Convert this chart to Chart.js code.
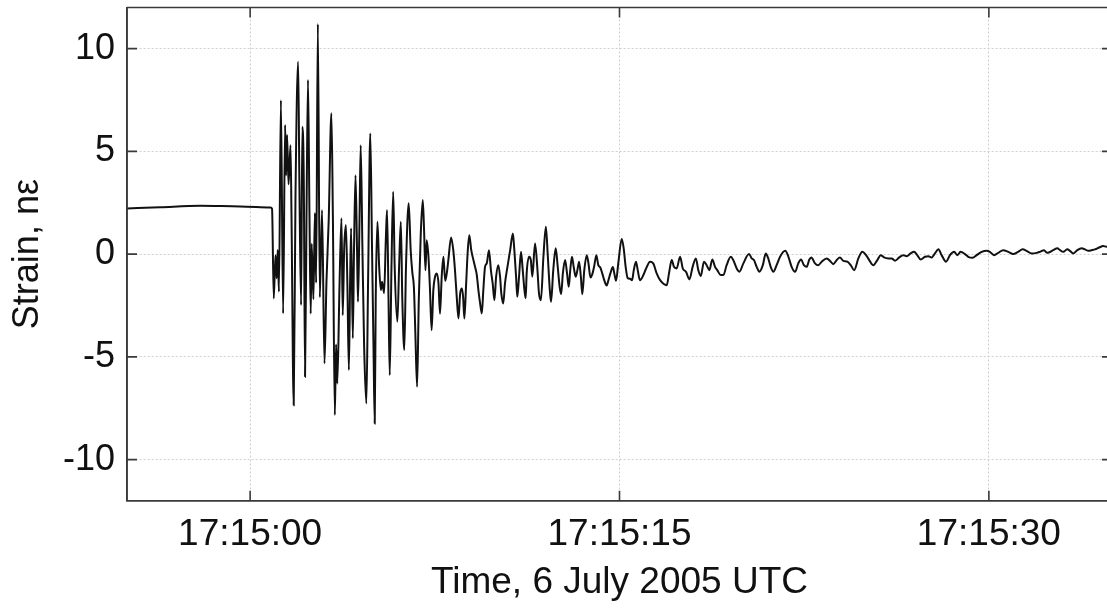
<!DOCTYPE html>
<html>
<head>
<meta charset="utf-8">
<script src="https://cdn.jsdelivr.net/npm/chart.js@4.4.1/dist/chart.umd.min.js"></script>
<style>
  html, body { margin: 0; padding: 0; background: #fff; overflow: hidden; }
  #wrap { position: absolute; left: 0; top: 0; width: 1120px; height: 609px; }
</style>
</head>
<body>
<div id="wrap"><canvas id="strainChart"></canvas></div>
<script>
// Seconds after 17:15:00 UTC
const timeSec = [
  -5.0, -3.65, -2.03, -0.41, 0.83, 0.89, 0.96, 1.03, 1.08, 1.12,
  1.17, 1.25, 1.34, 1.42, 1.46, 1.50, 1.56, 1.64, 1.68, 1.77,
  1.84, 1.95, 2.00, 2.07, 2.12, 2.18, 2.23, 2.29, 2.35, 2.41,
  2.46, 2.50, 2.57, 2.63, 2.68, 2.75, 2.83, 2.92, 3.02, 3.10,
  3.19, 3.30, 3.36, 3.44, 3.49, 3.54, 3.63, 3.71, 3.76, 3.82,
  3.89, 3.95, 4.01, 4.06, 4.10, 4.17, 4.22, 4.28, 4.34, 4.38,
  4.44, 4.49, 4.56, 4.63, 4.72, 4.79, 4.88, 4.95, 5.01, 5.06,
  5.10, 5.17, 5.24, 5.31, 5.36, 5.44, 5.51, 5.56, 5.62, 5.67,
  5.74, 5.81, 5.87, 5.98, 6.05, 6.12, 6.18, 6.26, 6.33, 6.44,
  6.52, 6.59, 6.65, 6.71, 6.78, 6.85, 6.93, 7.01, 7.06, 7.12,
  7.17, 7.24, 7.30, 7.37, 7.44, 7.51, 7.58, 7.65, 7.71, 7.78,
  7.85, 7.92, 7.99, 8.05, 8.16, 8.25, 8.32, 8.39, 8.46, 8.53,
  8.60, 8.65, 8.70, 8.77, 8.84, 8.90, 8.98, 9.07, 9.14, 9.20,
  9.27, 9.34, 9.41, 9.47, 9.54, 9.61, 9.70, 9.78, 9.85, 9.92,
  9.99, 10.08, 10.15, 10.20, 10.28, 10.35, 10.45, 10.56, 10.67, 10.73,
  10.80, 10.85, 10.92, 11.00, 11.07, 11.14, 11.19, 11.23, 11.33, 11.40,
  11.46, 11.57, 11.66, 11.73, 11.81, 11.91, 12.01, 12.09, 12.17, 12.22,
  12.31, 12.41, 12.49, 12.57, 12.63, 12.70, 12.79, 12.87, 12.94, 13.00,
  13.07, 13.14, 13.22, 13.29, 13.36, 13.43, 13.49, 13.57, 13.67, 13.74,
  13.82, 13.89, 13.97, 14.06, 14.14, 14.22, 14.30, 14.38, 14.48, 14.55,
  14.63, 14.73, 14.79, 14.86, 14.95, 15.09, 15.17, 15.25, 15.33, 15.43,
  15.51, 15.58, 15.67, 15.74, 15.83, 15.97, 16.08, 16.24, 16.37, 16.51,
  16.65, 16.92, 17.01, 17.12, 17.21, 17.32, 17.46, 17.57, 17.70, 17.84,
  17.97, 18.10, 18.20, 18.30, 18.43, 18.54, 18.65, 18.77, 18.88, 18.97,
  19.11, 19.22, 19.35, 19.52, 19.62, 19.76, 19.87, 20.03, 20.26, 20.37,
  20.46, 20.57, 20.68, 20.82, 20.94, 21.04, 21.14, 21.25, 21.38, 21.52,
  21.73, 21.86, 21.99, 22.13, 22.26, 22.37, 22.49, 22.60, 22.71, 22.79,
  22.94, 23.07, 23.21, 23.41, 23.58, 23.68, 23.84, 23.95, 24.09, 24.25,
  24.39, 24.53, 24.70, 24.86, 25.01, 25.14, 25.31, 25.47, 25.61, 25.74,
  25.92, 26.05, 26.19, 26.36, 26.52, 26.66, 26.82, 26.96, 27.09, 27.23,
  27.41, 27.54, 27.68, 27.81, 27.95, 28.08, 28.26, 28.42, 28.59, 28.72,
  28.85, 29.03, 29.16, 29.34, 29.50, 29.71, 29.91, 30.04, 30.21, 30.38,
  30.58, 30.79, 30.99, 31.19, 31.37, 31.53, 31.74, 31.94, 32.07, 32.24,
  32.37, 32.61, 32.78, 32.89, 33.02, 33.18, 33.29, 33.43, 33.59, 33.77,
  33.90, 34.04, 34.17, 34.31, 34.48, 34.64, 34.78, 35.0
];

// Strain in nanostrain (nε)
const strainNe = [
  2.22, 2.28, 2.35, 2.32, 2.27, 2.2, -2.16, -0.05, -1.18, 0.2,
  -1.83, 7.49, -2.89, 6.28, 3.84, 5.79, 3.4, 5.3, 1.9, -7.35,
  2.55, 9.36, 3.5, -2.48, 6.2, 3.5, -5.97, 1.9, 8.47, 1.9,
  -2.9, 0.5, -2.2, 2.0, -1.4, 11.2, -2.1, 2.14, -5.32, -1.35,
  1.6, 6.85, 1.9, -7.83, -4.4, -6.3, -1.5, 1.74, -2.97, 0.28,
  1.41, -1.5, -5.64, -1.35, 1.26, -4.1, 0.3, 3.84, 0.3, -2.32,
  1.5, 5.3, 0.3, -4.5, -7.27, -1.35, 5.87, 0.3, -4.5, -8.24,
  -2.24, 1.57, -0.62, -1.75, -1.35, -1.9, 0.68, 2.14, -2.2, -5.89,
  -0.6, 3.03, -0.6, -3.29, -0.6, 1.57, -2.2, -4.67, -0.6, 2.47,
  0.19, -0.93, -1.59, -3.86, -6.46, -2.2, 1.0, 2.63, 1.32, -0.78,
  0.68, -0.1, -1.6, -3.7, -1.75, -1.1, -0.94, -1.43, -2.9, -1.1,
  -0.13, -1.3, -0.9, -0.29, 0.81, 0.19, -0.8, -2.08, -3.13, -1.91,
  -1.67, -2.1, -3.13, -1.5, 0.2, 0.92, 0.19, -0.3, -0.65, -0.97,
  -1.75, -2.4, -2.89, -1.75, -0.62, -0.45, 0.19, -0.8, -1.43, -2.24,
  -1.1, -0.54, -1.1, -1.91, -2.4, -1.43, -0.62, 0.19, 1.0, 0.19,
  -1.1, -2.08, -1.1, 0.11, -0.78, -1.75, -2.15, -0.94, -0.13, -0.3,
  -1.1, 0.52, -0.62, -1.91, -2.24, -0.13, 1.33, -0.13, -1.75, -2.32,
  -0.78, 0.28, -0.6, -1.6, -1.95, -0.94, -0.29, -0.94, -1.59, -0.78,
  -0.13, -0.62, -1.1, -0.78, -0.37, -1.1, -1.95, -0.78, -0.05, -0.45,
  -1.14, -1.0, -0.6, -0.05, -0.54, -0.65, -0.94, -1.27, -1.53, -1.27,
  -0.94, -0.63, -0.94, -1.3, -0.45, 0.74, 0.28, -0.62, -1.16, -1.2,
  -1.27, -0.78, -0.37, -0.78, -1.27, -1.02, -0.7, -0.37, -0.45, -0.94,
  -1.27, -1.51, -0.94, -0.29, -0.62, -0.7, -0.13, -0.7, -0.86, -1.23,
  -0.62, -0.21, -0.78, -1.07, -0.37, -0.54, -0.78, -0.26, -0.62, -0.78,
  -1.02, -1.02, -0.54, -0.13, -0.29, -0.7, -0.86, -0.45, 0, -0.21,
  -0.29, -0.62, -0.86, -0.54, 0.03, -0.21, -0.62, -0.86, -0.54, -0.13,
  0.16, -0.13, -0.62, -0.86, -0.45, -0.26, -0.54, -0.62, -0.26, -0.16,
  -0.45, -0.54, -0.37, -0.21, -0.37, -0.49, -0.26, -0.17, -0.33, -0.37,
  -0.54, -0.78, -0.21, 0.11, -0.05, -0.29, -0.54, -0.29, -0.05, -0.16,
  -0.21, -0.21, -0.32, -0.16, -0.05, -0.1, 0.03, 0.11, -0.05, -0.26,
  -0.13, -0.1, -0.16, 0.03, 0.23, -0.05, -0.37, -0.05, 0.11, -0.05,
  0.11, 0, -0.13, -0.18, -0.05, 0.11, 0.16, 0.11, -0.05, 0.06,
  0.19, 0.11, 0, 0.11, 0.23, 0.16, 0.03, 0.06, 0.11, 0.19,
  0.06, 0.19, 0.28, 0.19, 0.11, 0.23, 0.16, 0.03, 0.19, 0.28,
  0.23, 0.16, 0.19, 0.23, 0.32, 0.39, 0.36, 0.42
];

const xTickTimes  = [0, 15, 30];
const xTickLabels = ['17:15:00', '17:15:15', '17:15:30'];
const yTickValues = [-10, -5, 0, 5, 10];
const xAxisTitle = 'Time, 6 July 2005 UTC';
const yAxisTitle = 'Strain, nε';

const FONT = 'Liberation Sans, Arial, Helvetica, sans-serif';
const AXIS_COLOR = '#3a3a3a';
const GRID_COLOR = '#cfcfcf';
const TEXT_COLOR = '#111111';

// Box on the remaining sides plus inward tick marks on all four sides
const axesBox = {
  id: 'axesBox',
  afterDatasetsDraw(chart) {
    const { ctx, chartArea: a, scales: { x, y } } = chart;
    ctx.save();
    ctx.strokeStyle = AXIS_COLOR;
    ctx.lineWidth = 1.6;
    ctx.beginPath();
    ctx.moveTo(a.left, a.top); ctx.lineTo(a.right, a.top);
    ctx.lineTo(a.right, a.bottom);
    ctx.moveTo(a.left, a.top); ctx.lineTo(a.left, a.bottom); ctx.lineTo(a.right, a.bottom);
    ctx.stroke();
    ctx.beginPath();
    const len = 10;
    xTickTimes.forEach(t => {
      const px = x.getPixelForValue(t);
      ctx.moveTo(px, a.bottom); ctx.lineTo(px, a.bottom - len);
      ctx.moveTo(px, a.top); ctx.lineTo(px, a.top + len);
    });
    yTickValues.forEach(v => {
      const py = y.getPixelForValue(v);
      ctx.moveTo(a.left, py); ctx.lineTo(a.left + len, py);
      ctx.moveTo(a.right, py); ctx.lineTo(a.right - len, py);
    });
    ctx.stroke();
    ctx.restore();
  }
};

new Chart(document.getElementById('strainChart'), {
  type: 'line',
  data: {
    datasets: [{
      label: 'Strain',
      data: timeSec.map((t, i) => ({ x: t, y: strainNe[i] })),
      borderColor: '#111111',
      borderWidth: 2,
      pointRadius: 0,
      fill: false,
      cubicInterpolationMode: 'monotone'
    }]
  },
  options: {
    responsive: true,
    maintainAspectRatio: false,
    animation: false,
    layout: { padding: { left: 0, right: 8, top: 7.5, bottom: 0 } },
    plugins: { legend: { display: false }, tooltip: { enabled: false } },
    scales: {
      x: {
        type: 'linear',
        min: -5,
        max: 35,
        afterBuildTicks: s => { s.ticks = xTickTimes.map(v => ({ value: v })); },
        afterFit: s => { s.height = 108.3; s.paddingLeft = 0; s.paddingRight = 0; },
        grid: { color: GRID_COLOR, lineWidth: 1, drawTicks: false },
        border: { display: true, color: AXIS_COLOR, width: 1.6, dash: [2, 2] },
        ticks: {
          padding: 12,
          maxRotation: 0,
          autoSkip: false,
          color: TEXT_COLOR,
          font: { family: FONT, size: 37 },
          callback: v => xTickLabels[xTickTimes.indexOf(v)]
        },
        title: {
          display: true,
          text: xAxisTitle,
          color: TEXT_COLOR,
          font: { family: FONT, size: 37 },
          padding: { top: 0, bottom: 4 }
        }
      },
      y: {
        min: -12,
        max: 12,
        afterBuildTicks: s => { s.ticks = yTickValues.map(v => ({ value: v })); },
        afterFit: s => { s.width = 127; s.paddingTop = 0; s.paddingBottom = 0; },
        grid: { color: GRID_COLOR, lineWidth: 1, drawTicks: false },
        border: { display: true, color: AXIS_COLOR, width: 1.6, dash: [2, 2] },
        ticks: {
          padding: 12,
          color: TEXT_COLOR,
          font: { family: FONT, size: 36 },
          callback: v => String(v)
        },
        title: {
          display: true,
          text: yAxisTitle,
          color: TEXT_COLOR,
          font: { family: FONT, size: 36 },
          padding: { top: 6.4, bottom: 0 }
        }
      }
    }
  },
  plugins: [axesBox]
});
</script>
</body>
</html>
